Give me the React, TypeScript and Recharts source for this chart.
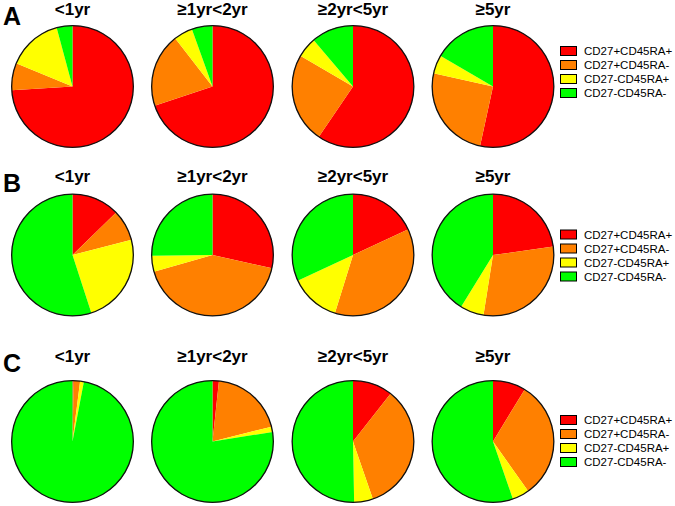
import React from 'react';
import { PieChart, Pie, Cell } from 'recharts';

const categories = ['<1yr', '≥1yr<2yr', '≥2yr<5yr', '≥5yr'];
const panelLabels = ['A', 'B', 'C'];
const seriesNames = ['CD27+CD45RA+', 'CD27+CD45RA-', 'CD27-CD45RA+', 'CD27-CD45RA-'];
const seriesColors = ['#FF0000', '#FF8000', '#FFFF00', '#00FF00'];

// percentages per age group, order: seriesNames
const panelA = [
  [74.0, 7.2, 14.6, 4.2],
  [69.9, 19.6, 5.0, 5.5],
  [59.5, 23.9, 5.4, 11.2],
  [53.4, 25.1, 4.9, 16.6],
];
const panelB = [
  [12.7, 8.3, 24.0, 55.0],
  [28.5, 42.1, 4.2, 25.2],
  [18.1, 36.7, 13.3, 31.9],
  [22.8, 29.7, 6.3, 41.2],
];
const panelC = [
  [0.3, 1.7, 1.0, 97.0],
  [1.7, 19.4, 1.4, 77.5],
  [10.6, 34.1, 5.0, 50.3],
  [8.7, 31.5, 4.5, 55.3],
];

const panels = [panelA, panelB, panelC];

// layout
const W = 675;
const H = 506;
const colX = [72.5, 212.5, 353, 493];
const rowY = [86.5, 255, 441.5];
const titleY = [15, 182, 362];
const labelY = [25, 192, 372];
const legendTop = [46, 229.5, 415];
const R = 61.5;

export default function App() {
  const font = 'Arial, "Liberation Sans", Helvetica, sans-serif';
  return (
    <div style={{ position: 'absolute', left: 0, top: 0, width: W, height: H, background: '#fff' }}>
      <PieChart width={W} height={H} margin={{ top: 0, right: 0, bottom: 0, left: 0 }}>
        {panels.map((panel, pi) =>
          panel.map((vals, ci) => {
            const data = vals.map((v, k) => ({ name: seriesNames[k], value: v }));
            return (
              <Pie
                key={`p-${pi}-${ci}`}
                data={data}
                dataKey="value"
                nameKey="name"
                cx={colX[ci]}
                cy={rowY[pi]}
                innerRadius={0}
                outerRadius={R - 0.5}
                startAngle={90}
                endAngle={-270}
                stroke="none"
                isAnimationActive={false}
                label={false}
                labelLine={false}
              >
                {data.map((d, k) => (
                  <Cell key={k} fill={seriesColors[k]} stroke="none" />
                ))}
              </Pie>
            );
          })
        )}
        {panels.map((panel, pi) =>
          panel.map((_, ci) => (
            <Pie
              key={`ring-${pi}-${ci}`}
              data={[{ name: 'ring', value: 1 }]}
              dataKey="value"
              cx={colX[ci]}
              cy={rowY[pi]}
              innerRadius={R - 1.3}
              outerRadius={R}
              startAngle={90}
              endAngle={-270}
              fill="#111"
              stroke="none"
              isAnimationActive={false}
            />
          ))
        )}
      </PieChart>
      <svg
        width={W}
        height={H}
        style={{ position: 'absolute', left: 0, top: 0, pointerEvents: 'none' }}
      >
        {panelLabels.map((p, pi) => (
          <text key={p} x={3} y={labelY[pi]} fontFamily={font} fontWeight="bold" fontSize={25} fill="#000">
            {p}
          </text>
        ))}
        {panelLabels.map((p, pi) =>
          categories.map((c, ci) => (
            <text
              key={`${p}-${c}`}
              x={colX[ci]}
              y={titleY[pi]}
              textAnchor="middle"
              fontFamily={font}
              fontWeight="bold"
              fontSize={17}
              fill="#000"
            >
              {c}
            </text>
          ))
        )}
        {panelLabels.map((p, pi) =>
          seriesNames.map((s, k) => {
            const top = legendTop[pi] + k * 14;
            return (
              <g key={`lg-${p}-${k}`}>
                <rect x={560.5} y={top + 0.5} width={16} height={9} fill={seriesColors[k]} stroke="#000" strokeWidth={1} />
                <text x={584} y={top + 9} fontFamily={font} fontSize={11.5} fill="#000">
                  {s}
                </text>
              </g>
            );
          })
        )}
      </svg>
    </div>
  );
}
